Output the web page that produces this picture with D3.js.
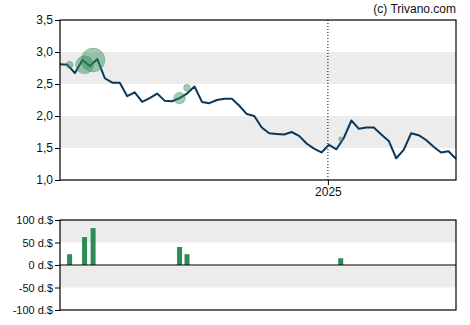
<!DOCTYPE html>
<html>
<head>
<meta charset="utf-8">
<script src="https://cdn.jsdelivr.net/npm/d3@7"></script>
<style>
  body { margin: 0; background: #fff; }
  svg { font-family: Arial, "Liberation Sans", sans-serif; }
</style>
</head>
<body>
<div id="chart"></div>
<script>
// weekly closing prices, starting 2024-04-25
let startDate = new Date(2024, 3, 25);
let prices = [2.81, 2.80, 2.67, 2.875, 2.78, 2.89, 2.59, 2.52, 2.52, 2.31,
    2.37, 2.22, 2.28, 2.35, 2.24, 2.23, 2.28, 2.35, 2.46, 2.22,
    2.20, 2.25, 2.27, 2.27, 2.16, 2.03, 2.00, 1.82, 1.73, 1.72,
    1.71, 1.75, 1.69, 1.57, 1.49, 1.43, 1.55, 1.48, 1.66, 1.93,
    1.80, 1.82, 1.82, 1.71, 1.61, 1.34, 1.47, 1.73, 1.70, 1.625,
    1.52, 1.43, 1.45, 1.33];

// insider trades
let tradeDates = ['2024-05-04', '2024-05-18', '2024-05-26', '2024-08-15', '2024-08-22', '2025-01-13'];
let tradeValues = [24, 62, 82, 40, 24, 15];
let tradePrices = [2.80, 2.80, 2.875, 2.28, 2.44, 1.64];

let yTicks = [1.0, 1.5, 2.0, 2.5, 3.0, 3.5];
let volTicks = [-100, -50, 0, 50, 100];

let width = 470, height = 325;
let left = 60, right = 456;
let main = { top: 20, bottom: 180 };
let sub = { top: 220, bottom: 310 };

let parse = d3.timeParse('%Y-%m-%d');
let series = prices.map((p, i) => ({ date: d3.timeDay.offset(startDate, i * 7), value: p }));
let trades = tradeDates.map((d, i) => ({ date: parse(d), value: tradeValues[i], price: tradePrices[i] }));

let svg = d3.select('#chart')
    .append('svg')
    .attr('width', width)
    .attr('height', height);

let x = d3.scaleTime()
    .domain(d3.extent(series, d => d.date))
    .range([left, right]);
let y = d3.scaleLinear([1, 3.5], [main.bottom, main.top]);
let yv = d3.scaleLinear([-100, 100], [sub.bottom, sub.top]);
let r = d3.scaleLinear([0, 100], [0, 14.5]);

// grey bands
svg.append('g')
    .selectAll('rect')
    .data([[2.5, 3.0], [1.5, 2.0]])
    .join('rect')
    .attr('x', left)
    .attr('width', right - left)
    .attr('y', d => y(d[1]))
    .attr('height', d => y(d[0]) - y(d[1]))
    .attr('fill', '#ececec');

svg.append('g')
    .selectAll('rect')
    .data([[50, 100], [-50, 0]])
    .join('rect')
    .attr('x', left)
    .attr('width', right - left)
    .attr('y', d => yv(d[1]))
    .attr('height', d => yv(d[0]) - yv(d[1]))
    .attr('fill', '#ececec');

// year marker
let jan = new Date(2025, 0, 1);
svg.append('line')
    .attr('x1', x(jan)).attr('x2', x(jan))
    .attr('y1', main.top).attr('y2', main.bottom)
    .attr('stroke', '#000')
    .attr('stroke-dasharray', '1,2');

// price line
svg.append('path')
    .datum(series)
    .attr('fill', 'none')
    .attr('stroke', '#0c3758')
    .attr('stroke-width', 2)
    .attr('stroke-linejoin', 'round')
    .attr('d', d3.line().x(d => x(d.date)).y(d => y(d.value)));

// trade bubbles
svg.append('g')
    .selectAll('circle')
    .data(trades)
    .join('circle')
    .attr('cx', d => x(d.date))
    .attr('cy', d => y(d.price))
    .attr('r', d => r(d.value))
    .attr('fill', '#2e8b57')
    .attr('fill-opacity', 0.45)
    .attr('stroke', '#2e8b57')
    .attr('stroke-opacity', 0.3);

// trade bars
svg.append('g')
    .selectAll('rect')
    .data(trades)
    .join('rect')
    .attr('x', d => x(d.date) - 2.5)
    .attr('width', 5)
    .attr('y', d => yv(d.value))
    .attr('height', d => yv(0) - yv(d.value))
    .attr('fill', '#2e8b57');

// frames
[[main.top, main.bottom], [sub.top, sub.bottom]].forEach(p => {
    svg.append('rect')
        .attr('x', left).attr('y', p[0])
        .attr('width', right - left).attr('height', p[1] - p[0])
        .attr('fill', 'none')
        .attr('stroke', '#000')
        .attr('stroke-width', 1.2);
});
svg.append('line')
    .attr('x1', left).attr('x2', right)
    .attr('y1', yv(0)).attr('y2', yv(0))
    .attr('stroke', '#000')
    .attr('stroke-width', 1.2);

// axes
let fmt = d3.formatLocale({ decimal: ',', thousands: '.', grouping: [3], currency: ['', ''] }).format('.1f');

svg.append('g')
    .attr('transform', `translate(${left},0)`)
    .call(d3.axisLeft(y).tickValues(yTicks).tickFormat(fmt).tickSize(5).tickPadding(2))
    .call(g => g.select('.domain').remove())
    .call(g => g.selectAll('text').attr('font-size', 12).attr('fill', '#111'));

svg.append('g')
    .attr('transform', `translate(${left},0)`)
    .call(d3.axisLeft(yv).tickValues(volTicks).tickFormat(d => d + ' d.$').tickSize(5).tickPadding(2))
    .call(g => g.select('.domain').remove())
    .call(g => g.selectAll('text').attr('font-size', 11).attr('fill', '#111'));

svg.append('g')
    .attr('transform', `translate(0,${main.bottom})`)
    .call(d3.axisBottom(x).tickValues([jan]).tickFormat(d3.timeFormat('%Y')).tickSize(5).tickPadding(2))
    .call(g => g.select('.domain').remove())
    .call(g => g.selectAll('text').attr('font-size', 12).attr('fill', '#111'));

svg.append('text')
    .attr('x', right)
    .attr('y', 13)
    .attr('text-anchor', 'end')
    .attr('font-size', 12)
    .attr('fill', '#111')
    .text('(c) Trivano.com');
</script>
</body>
</html>
